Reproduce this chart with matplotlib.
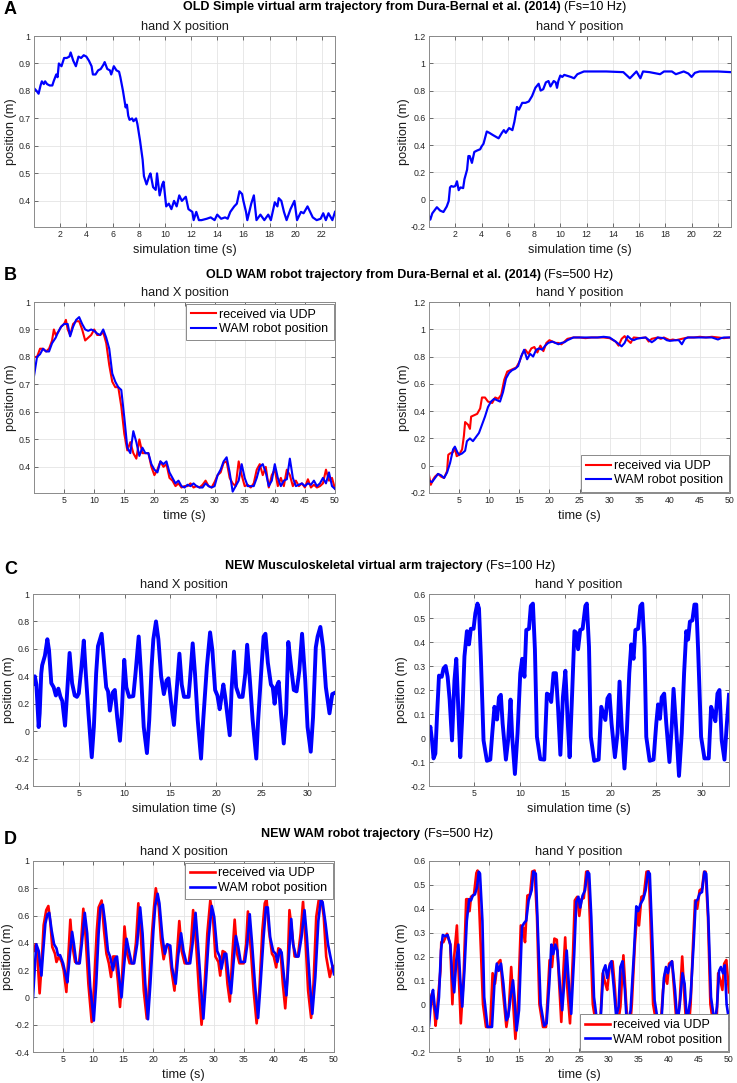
import matplotlib
matplotlib.use('Agg')
import matplotlib.pyplot as plt
from matplotlib.ticker import FuncFormatter

plt.rcParams['font.family'] = ['Liberation Sans', 'DejaVu Sans']

# ---------------- DATA ----------------
# Panel A: old simple virtual arm (Fs=10 Hz)
a_x_t = [0, 0.2, 0.35, 0.5, 0.6, 0.75, 0.85, 1.0, 1.2, 1.4, 1.5, 1.7, 1.8, 1.9, 2.1, 2.3, 2.5, 2.7, 2.8,
         3.0, 3.2, 3.4, 3.6, 3.8, 4.0, 4.2, 4.4, 4.5, 4.7, 4.9, 5.1, 5.3, 5.4, 5.6, 5.8, 5.9, 6.1, 6.3,
         6.5, 6.6, 6.8, 7.0, 7.1, 7.2, 7.3, 7.5, 7.6, 7.8, 7.9, 8.1, 8.3, 8.4, 8.6, 8.8, 8.9, 9.1, 9.3,
         9.4, 9.6, 9.8, 9.9, 10.1, 10.3, 10.5, 10.7, 10.9, 11.1, 11.3, 11.6, 11.8, 12.1, 12.2, 12.4,
         12.6, 12.8, 13.2, 13.5, 13.8, 14.0, 14.3, 14.6, 14.8, 15.0, 15.3, 15.5, 15.7, 15.9, 16.0,
         16.2, 16.3, 16.6, 16.8, 17.0, 17.3, 17.6, 17.9, 18.1, 18.4, 18.6, 18.7, 18.9, 19.1, 19.3,
         19.6, 19.9, 20.1, 20.4, 20.6, 20.9, 21.1, 21.3, 21.6, 21.9, 22.1, 22.3, 22.5, 22.8, 23.0]
a_x_v = [0.81, 0.80, 0.79, 0.82, 0.835, 0.825, 0.835, 0.825, 0.82, 0.82, 0.835, 0.86, 0.85, 0.90, 0.89,
         0.92, 0.92, 0.925, 0.94, 0.91, 0.89, 0.925, 0.92, 0.93, 0.925, 0.91, 0.89, 0.86, 0.86, 0.875,
         0.88, 0.895, 0.905, 0.88, 0.875, 0.86, 0.89, 0.875, 0.87, 0.85, 0.80, 0.74, 0.75, 0.71, 0.695,
         0.70, 0.69, 0.70, 0.68, 0.62, 0.55, 0.49, 0.46, 0.49, 0.50, 0.45, 0.44, 0.50, 0.42, 0.46, 0.47,
         0.38, 0.39, 0.37, 0.40, 0.38, 0.42, 0.40, 0.415, 0.37, 0.36, 0.33, 0.36, 0.33, 0.33, 0.335,
         0.34, 0.33, 0.35, 0.335, 0.34, 0.335, 0.36, 0.38, 0.39, 0.435, 0.425, 0.40, 0.36, 0.33, 0.39,
         0.42, 0.33, 0.35, 0.33, 0.35, 0.33, 0.395, 0.38, 0.41, 0.40, 0.36, 0.33, 0.37, 0.40, 0.33,
         0.36, 0.355, 0.38, 0.36, 0.34, 0.33, 0.335, 0.355, 0.33, 0.355, 0.33, 0.36]

a_y_t = [0, 0.1, 0.25, 0.6, 0.85, 1.1, 1.35, 1.5, 1.6, 1.7, 1.85, 2.0, 2.13, 2.26, 2.4, 2.6, 2.7, 2.9, 3.0,
         3.1, 3.27, 3.45, 3.65, 3.9, 4.0, 4.15, 4.4, 4.6, 4.85, 5.3, 5.55, 5.7, 5.85, 6.1, 6.35, 6.5,
         6.7, 6.85, 7.1, 7.35, 7.6, 7.85, 8.1, 8.35, 8.5, 8.7, 8.9, 9.1, 9.25, 9.5, 9.65, 9.75, 9.85,
         10.0, 10.15, 10.3, 10.8, 11.05, 11.3, 11.8, 12.5, 13.5, 14.8, 15.3, 15.8, 15.95, 16.1, 16.3,
         16.8, 17.6, 17.9, 18.5, 18.8, 19.1, 19.4, 19.75, 20.0, 20.25, 20.6, 21.0, 22.0, 23.0]
a_y_v = [-0.12, -0.146, -0.10, -0.055, -0.08, -0.09, -0.05, -0.01, 0.09, 0.10, 0.095, 0.10, 0.135, 0.07,
         0.09, 0.085, 0.15, 0.22, 0.32, 0.32, 0.27, 0.35, 0.36, 0.37, 0.39, 0.41, 0.50, 0.49, 0.475,
         0.45, 0.49, 0.51, 0.49, 0.525, 0.51, 0.57, 0.68, 0.66, 0.71, 0.71, 0.72, 0.76, 0.82, 0.85, 0.80,
         0.81, 0.86, 0.87, 0.83, 0.87, 0.86, 0.82, 0.87, 0.91, 0.90, 0.915, 0.90, 0.89, 0.92, 0.94, 0.94,
         0.94, 0.935, 0.89, 0.94, 0.915, 0.89, 0.94, 0.935, 0.92, 0.94, 0.94, 0.92, 0.93, 0.94, 0.925,
         0.90, 0.93, 0.94, 0.94, 0.94, 0.935]

# Panel B: old WAM robot (Fs=500 Hz)
b_x_t = [0, 0.5, 1, 1.5, 2, 2.5, 3, 3.3, 3.6, 4, 4.5, 5, 5.3, 5.6, 6, 6.5, 7, 7.5, 8, 8.5, 9, 9.5, 10,
         10.5, 11, 11.5, 12, 12.5, 13, 13.5, 14, 14.5, 15, 15.5, 16, 16.5, 17, 17.5, 18, 18.5, 19, 19.5,
         20, 20.5, 21, 21.5, 22, 22.5, 23, 23.5, 24, 24.5, 25, 25.5, 26, 26.5, 27, 27.5, 28, 28.5, 29,
         29.5, 30, 30.5, 31, 31.5, 32, 32.5, 33, 33.5, 34, 34.5, 35, 35.5, 36, 36.5, 37, 37.5, 38, 38.5,
         39, 39.5, 40, 40.5, 41, 41.5, 42, 42.5, 43, 43.5, 44, 44.5, 45, 45.5, 46, 46.5, 47, 47.5, 48,
         48.5, 49, 49.5, 50]
b_x_udp = [0.80, 0.80, 0.83, 0.83, 0.82, 0.83, 0.86, 0.90, 0.88, 0.89, 0.91, 0.92, 0.935, 0.90, 0.88,
           0.92, 0.93, 0.93, 0.90, 0.86, 0.87, 0.88, 0.90, 0.88, 0.88, 0.89, 0.85, 0.77, 0.71, 0.69, 0.69,
           0.62, 0.52, 0.46, 0.49, 0.45, 0.43, 0.50, 0.45, 0.45, 0.45, 0.40, 0.37, 0.39, 0.42, 0.40, 0.41,
           0.36, 0.35, 0.33, 0.34, 0.325, 0.33, 0.33, 0.34, 0.325, 0.33, 0.325, 0.335, 0.35, 0.33, 0.325,
           0.345, 0.37, 0.38, 0.415, 0.42, 0.36, 0.34, 0.33, 0.42, 0.37, 0.33, 0.335, 0.325, 0.34, 0.39,
           0.41, 0.37, 0.40, 0.325, 0.37, 0.39, 0.33, 0.36, 0.33, 0.39, 0.37, 0.33, 0.35, 0.33, 0.34,
           0.325, 0.355, 0.325, 0.335, 0.325, 0.33, 0.34, 0.39, 0.35, 0.36, 0.32]
b_x_wam = [0.73, 0.80, 0.81, 0.83, 0.82, 0.82, 0.85, 0.86, 0.87, 0.89, 0.91, 0.92, 0.92, 0.92, 0.875,
           0.91, 0.935, 0.945, 0.92, 0.90, 0.895, 0.90, 0.895, 0.885, 0.88, 0.90, 0.87, 0.83, 0.74, 0.71,
           0.69, 0.68, 0.58, 0.47, 0.45, 0.53, 0.49, 0.44, 0.47, 0.45, 0.45, 0.41, 0.39, 0.38, 0.42, 0.41,
           0.42, 0.38, 0.36, 0.34, 0.35, 0.33, 0.325, 0.335, 0.33, 0.34, 0.33, 0.325, 0.325, 0.34, 0.33,
           0.325, 0.33, 0.37, 0.39, 0.42, 0.435, 0.38, 0.31, 0.33, 0.35, 0.41, 0.36, 0.33, 0.33, 0.33,
           0.36, 0.40, 0.41, 0.38, 0.33, 0.35, 0.41, 0.36, 0.33, 0.35, 0.355, 0.43, 0.36, 0.33, 0.335,
           0.34, 0.33, 0.34, 0.335, 0.35, 0.33, 0.34, 0.36, 0.34, 0.38, 0.33, 0.32]

b_y_udp_t = [0, 0.3, 0.7, 1, 1.5, 2, 2.5, 3, 3.2, 3.5, 4, 4.3, 4.6, 5, 5.5, 5.8, 6, 6.5, 6.8, 7, 7.5, 8,
             8.5, 8.8, 9.3, 9.8, 10.5, 11, 11.5, 12, 12.5, 13, 13.5, 14, 14.5, 15, 15.5, 16, 16.5, 17,
             17.5, 18, 18.5, 19, 19.5, 20, 20.5, 21, 21.5, 22, 22.5, 23, 24, 25, 26, 27, 28, 29, 30, 31,
             31.5, 32, 32.5, 33, 33.5, 34, 35, 36, 36.5, 37, 38, 38.5, 39, 40, 40.5, 41, 42, 43, 44, 45,
             46, 47, 48, 49, 50]
b_y_udp = [-0.07, -0.14, -0.10, -0.08, -0.06, -0.08, -0.09, -0.04, 0.08, 0.09, 0.10, 0.13, 0.07, 0.08,
           0.12, 0.22, 0.32, 0.30, 0.27, 0.36, 0.37, 0.38, 0.42, 0.50, 0.50, 0.47, 0.46, 0.50, 0.49, 0.52,
           0.63, 0.69, 0.70, 0.71, 0.72, 0.76, 0.82, 0.85, 0.82, 0.86, 0.87, 0.83, 0.88, 0.84, 0.90, 0.92,
           0.91, 0.90, 0.90, 0.89, 0.91, 0.93, 0.94, 0.94, 0.935, 0.94, 0.94, 0.94, 0.935, 0.91, 0.88,
           0.93, 0.95, 0.92, 0.90, 0.94, 0.935, 0.94, 0.91, 0.93, 0.94, 0.93, 0.94, 0.92, 0.925, 0.92,
           0.93, 0.94, 0.94, 0.945, 0.94, 0.945, 0.94, 0.935, 0.94]
b_y_wam_t = [0, 0.5, 1, 1.5, 2, 2.5, 3, 3.5, 4, 4.3, 4.7, 5, 5.5, 6, 6.3, 6.8, 7.3, 7.8, 8.3, 8.8, 9.3,
             9.8, 10.3, 10.8, 11.3, 11.8, 12.3, 12.8, 13.3, 13.8, 14.3, 14.8, 15.3, 15.8, 16.3, 16.8,
             17.3, 17.8, 18.3, 18.8, 19.3, 19.8, 20.5, 21, 21.5, 22, 22.5, 23, 24, 25, 26, 27, 28, 29,
             30, 31, 32, 32.5, 33, 33.5, 34, 34.5, 35, 36, 37, 37.5, 38, 39, 39.5, 40, 41, 41.5, 42,
             42.5, 43, 44, 45, 46, 47, 48, 48.5, 49, 50]
b_y_wam = [-0.11, -0.12, -0.09, -0.06, -0.07, -0.09, -0.05, 0.02, 0.12, 0.14, 0.10, 0.08, 0.09, 0.11,
           0.18, 0.20, 0.18, 0.21, 0.24, 0.30, 0.36, 0.43, 0.47, 0.49, 0.48, 0.47, 0.54, 0.64, 0.68,
           0.70, 0.71, 0.73, 0.80, 0.85, 0.78, 0.82, 0.80, 0.85, 0.86, 0.85, 0.88, 0.90, 0.91, 0.90,
           0.89, 0.90, 0.905, 0.92, 0.94, 0.94, 0.94, 0.94, 0.94, 0.945, 0.94, 0.91, 0.875, 0.90, 0.95,
           0.93, 0.92, 0.93, 0.935, 0.94, 0.905, 0.92, 0.94, 0.935, 0.92, 0.915, 0.92, 0.92, 0.89, 0.93,
           0.94, 0.94, 0.94, 0.94, 0.94, 0.925, 0.935, 0.94, 0.94]

# Panel C: new musculoskeletal arm (Fs=100 Hz)
c_x_t = [0, 0.2, 0.37, 0.62, 0.73, 0.9, 1.0, 1.3, 1.57, 1.75, 2.0, 2.26, 2.5, 2.77, 3.0, 3.2, 3.5, 3.7,
         4.0, 4.27, 4.56, 4.8, 5.0, 5.3, 5.55, 5.77, 6.06, 6.42, 6.65, 6.9, 7.1, 7.5, 7.77, 8.0, 8.2,
         8.4, 8.7, 8.94, 9.2, 9.5, 9.7, 9.97, 10.2, 10.5, 10.96, 11.2, 11.55, 11.8, 12.1, 12.45, 12.7,
         12.96, 13.15, 13.44, 13.7, 14.0, 14.3, 14.6, 14.8, 15.1, 15.4, 15.7, 16.0, 16.25, 16.5, 17.0,
         17.15, 17.45, 17.7, 18.0, 18.36, 18.6, 19.0, 19.35, 19.6, 19.9, 20.15, 20.4, 20.6, 20.8,
         21.0, 21.5, 21.7, 21.96, 22.2, 22.55, 22.9, 23.2, 23.4, 23.7, 24.0, 24.4, 24.6, 25.0, 25.2,
         25.4, 25.66, 26.0, 26.2, 26.4, 26.6, 26.85, 27.1, 27.4, 27.66, 27.9, 28.2, 28.5, 28.8,
         29.1, 29.4, 29.75, 30.0, 30.35, 30.6, 30.9, 31.1, 31.4, 31.7, 32.0, 32.4, 32.7, 33.0]
c_x_v = [0.345, 0.40, 0.34, 0.03, 0.13, 0.42, 0.48, 0.55, 0.67, 0.59, 0.35, 0.32, 0.26, 0.31, 0.25,
         0.22, 0.04, 0.25, 0.57, 0.35, 0.26, 0.25, 0.275, 0.47, 0.66, 0.42, 0.13, -0.19, 0.03, 0.42,
         0.62, 0.71, 0.50, 0.32, 0.29, 0.15, 0.28, 0.30, 0.10, -0.07, 0.13, 0.52, 0.32, 0.25, 0.255,
         0.42, 0.69, 0.42, 0.03, -0.16, 0.08, 0.47, 0.67, 0.80, 0.67, 0.40, 0.27, 0.37, 0.385, 0.20,
         0.045, 0.30, 0.565, 0.34, 0.25, 0.25, 0.37, 0.64, 0.42, 0.08, -0.20, 0.08, 0.47, 0.72, 0.59,
         0.30, 0.26, 0.16, 0.25, 0.34, 0.25, -0.03, 0.30, 0.58, 0.32, 0.25, 0.25, 0.42, 0.63, 0.37,
         0.08, -0.20, 0.08, 0.50, 0.69, 0.71, 0.50, 0.34, 0.32, 0.20, 0.32, 0.36, 0.13, -0.09, 0.13,
         0.65, 0.47, 0.30, 0.29, 0.44, 0.71, 0.37, 0.03, -0.15, 0.10, 0.61, 0.69, 0.76, 0.61, 0.32,
         0.13, 0.27, 0.28]

c_y_t = [0, 0.15, 0.33, 0.5, 0.7, 0.88, 1.1, 1.4, 1.6, 1.83, 2.05, 2.27, 2.53, 2.8, 3.0, 3.2, 3.44,
         3.66, 3.9, 4.17, 4.4, 4.6, 4.9, 5.1, 5.33, 5.5, 5.7, 6.0, 6.37, 6.74, 6.96, 7.2, 7.48, 7.7,
         7.9, 8.1, 8.46, 8.7, 8.97, 9.15, 9.45, 9.74, 10.04, 10.25, 10.5, 10.7, 11.0, 11.2, 11.43,
         11.65, 11.87, 12.24, 12.68, 12.97, 13.2, 13.44, 13.7, 13.96, 14.19, 14.45, 14.73, 15.0,
         15.25, 15.47, 15.76, 16.0, 16.17, 16.4, 16.63, 16.9, 17.2, 17.36, 17.6, 17.8, 18.17, 18.66,
         18.95, 19.2, 19.4, 19.63, 19.86, 20.08, 20.45, 20.74, 20.96, 21.2, 21.5, 21.77, 22.03,
         22.25, 22.5, 22.7, 23.0, 23.25, 23.46, 23.7, 23.9, 24.27, 24.7, 25.0, 25.2, 25.4, 25.6,
         25.87, 26.1, 26.45, 26.7, 26.9, 27.2, 27.5, 27.8, 28.06, 28.3, 28.5, 28.7, 28.97, 29.2,
         29.4, 29.6, 29.93, 30.3, 30.77, 31.03, 31.3, 31.5, 31.73, 31.95, 32.2, 32.5, 32.74, 33.0]
c_y_v = [0.012, 0.047, -0.01, -0.085, -0.065, 0.09, 0.26, 0.255, 0.29, 0.30, 0.255, 0.16, -0.01, 0.24,
         0.33, 0.145, -0.08, 0.09, 0.34, 0.445, 0.39, 0.455, 0.455, 0.52, 0.56, 0.54, 0.34, -0.01,
         -0.095, -0.09, 0.02, 0.13, 0.077, 0.17, 0.18, 0.06, -0.09, -0.01, 0.16, 0.005, -0.15, 0.02,
         0.27, 0.33, 0.255, 0.45, 0.455, 0.55, 0.56, 0.37, 0.005, -0.088, -0.09, 0.185, 0.18, 0.15,
         0.27, 0.27, 0.13, -0.07, 0.17, 0.28, 0.075, -0.08, 0.20, 0.445, 0.44, 0.37, 0.45, 0.455,
         0.55, 0.56, 0.38, 0.005, -0.095, -0.09, 0.13, 0.10, 0.075, 0.165, 0.18, 0.06, -0.08, 0.02,
         0.235, 0.047, -0.127, 0.033, 0.27, 0.39, 0.33, 0.45, 0.455, 0.55, 0.56, 0.38, 0.005, -0.095,
         -0.09, 0.06, 0.14, 0.08, 0.17, 0.185, 0.06, -0.10, 0.047, 0.205, 0.033, -0.158, 0.02, 0.27,
         0.445, 0.41, 0.485, 0.49, 0.556, 0.556, 0.37, 0.005, -0.085, -0.085, 0.13, 0.10, 0.07, 0.185,
         0.20, -0.01, -0.09, 0.047, 0.18]

# Panel D: new WAM robot (Fs=500 Hz)
d_x_udp_t = [0, 0.2, 0.44, 0.7, 1.1, 1.44, 1.77, 2.2, 2.55, 2.9, 3.2, 3.65, 3.9, 4.3, 4.76, 5.1, 5.54,
             5.87, 6.2, 6.5, 7.0, 7.64, 7.97, 8.36, 8.75, 9.2, 9.75, 10.1, 10.6, 10.9, 11.4, 11.8, 12.2,
             12.6, 12.96, 13.3, 13.7, 14.1, 14.45, 14.8, 15.2, 15.6, 16.06, 16.7, 17.1, 17.5, 17.94,
             18.4, 18.9, 19.3, 19.77, 20.1, 20.4, 20.9, 21.26, 21.7, 22.15, 22.6, 23.0, 23.5, 23.9,
             24.3, 24.7, 25.2, 25.86, 26.24, 26.6, 27.1, 27.57, 28.0, 28.46, 28.96, 29.45, 29.9, 30.3,
             30.8, 31.1, 31.5, 31.9, 32.3, 32.7, 33.1, 33.5, 33.9, 34.3, 35.0, 35.4, 35.7, 36.2, 36.65,
             37.15, 37.6, 38.1, 38.5, 38.8, 39.2, 39.7, 40.0, 40.4, 40.75, 41.1, 41.5, 41.9, 42.25,
             42.6, 43.0, 43.46, 44.0, 44.46, 44.85, 45.3, 45.7, 46.2, 46.6, 47.05, 47.45, 47.9, 48.3,
             48.7, 49.3, 49.7, 50.0]
d_x_udp = [0.34, 0.34, 0.39, 0.33, 0.03, 0.25, 0.53, 0.64, 0.67, 0.54, 0.37, 0.32, 0.26, 0.30, 0.26,
           0.20, 0.04, 0.30, 0.57, 0.39, 0.26, 0.25, 0.39, 0.65, 0.44, 0.10, -0.18, 0.05, 0.49, 0.66,
           0.71, 0.49, 0.32, 0.25, 0.15, 0.30, 0.30, 0.12, -0.07, 0.15, 0.52, 0.33, 0.25, 0.25, 0.40,
           0.69, 0.44, 0.05, -0.155, 0.10, 0.47, 0.66, 0.80, 0.66, 0.42, 0.28, 0.38, 0.38, 0.20, 0.05,
           0.30, 0.56, 0.34, 0.25, 0.25, 0.39, 0.64, 0.39, 0.05, -0.20, 0.05, 0.47, 0.71, 0.59, 0.30,
           0.26, 0.16, 0.34, 0.33, 0.10, -0.03, 0.30, 0.57, 0.32, 0.25, 0.25, 0.39, 0.63, 0.34, 0.05,
           -0.19, 0.05, 0.49, 0.69, 0.72, 0.49, 0.32, 0.30, 0.22, 0.36, 0.35, 0.10, -0.08, 0.15, 0.64,
           0.49, 0.30, 0.30, 0.47, 0.70, 0.39, 0.05, -0.15, 0.10, 0.59, 0.71, 0.73, 0.59, 0.30, 0.15,
           0.22, 0.23]
d_x_wam_t = [0, 0.3, 0.55, 0.95, 1.4, 1.66, 2.05, 2.4, 2.7, 3.1, 3.5, 3.9, 4.15, 4.5, 5.0, 5.4, 5.7,
             6.1, 6.5, 6.8, 7.2, 7.75, 8.1, 8.6, 9.0, 9.5, 10.1, 10.5, 10.9, 11.2, 11.6, 12.0, 12.45,
             12.8, 13.3, 13.6, 13.95, 14.3, 14.7, 15.1, 15.55, 15.95, 16.4, 16.8, 17.3, 17.8, 18.2,
             18.65, 19.1, 19.5, 20.0, 20.3, 20.7, 21.0, 21.5, 21.9, 22.3, 22.8, 23.1, 23.7, 24.1, 24.6,
             25.0, 25.5, 26.1, 26.5, 27.0, 27.4, 27.9, 28.3, 28.7, 29.2, 29.7, 30.1, 30.6, 31.0, 31.3,
             31.8, 32.1, 32.5, 32.9, 33.3, 33.7, 34.1, 34.5, 35.2, 35.6, 36.0, 36.4, 36.9, 37.4, 37.8,
             38.3, 38.7, 39.0, 39.4, 39.9, 40.3, 40.6, 41.0, 41.3, 41.7, 42.1, 42.5, 42.9, 43.2, 43.7,
             44.1, 44.6, 45.1, 45.5, 46.0, 46.4, 46.9, 47.4, 47.8, 48.1, 48.6, 49.0, 49.4, 50.0]
d_x_wam = [0.0, 0.22, 0.39, 0.34, 0.16, 0.32, 0.54, 0.61, 0.62, 0.49, 0.39, 0.36, 0.31, 0.31, 0.25,
           0.17, 0.11, 0.30, 0.48, 0.39, 0.25, 0.25, 0.39, 0.62, 0.47, 0.08, -0.17, 0.10, 0.47, 0.66,
           0.68, 0.54, 0.34, 0.30, 0.20, 0.28, 0.30, 0.15, 0.0, 0.22, 0.43, 0.34, 0.25, 0.25, 0.39, 0.66,
           0.47, 0.10, -0.16, 0.10, 0.49, 0.67, 0.76, 0.69, 0.44, 0.32, 0.39, 0.38, 0.22, 0.10, 0.30,
           0.47, 0.34, 0.25, 0.25, 0.39, 0.62, 0.39, 0.08, -0.155, 0.10, 0.44, 0.67, 0.59, 0.34, 0.30,
           0.21, 0.32, 0.32, 0.15, 0.03, 0.25, 0.45, 0.37, 0.26, 0.26, 0.39, 0.61, 0.39, 0.08, -0.15,
           0.10, 0.44, 0.66, 0.66, 0.44, 0.34, 0.32, 0.26, 0.35, 0.33, 0.15, 0.015, 0.30, 0.575, 0.39,
           0.30, 0.30, 0.44, 0.64, 0.44, 0.10, -0.12, 0.15, 0.56, 0.71, 0.70, 0.54, 0.39, 0.30, 0.17]

d_y_udp_t = [0, 0.2, 0.5, 0.9, 1.1, 1.9, 2.05, 2.4, 3.0, 3.55, 3.9, 4.2, 4.65, 4.9, 5.3, 5.76, 6.2,
             6.5, 6.76, 7.0, 7.5, 7.9, 8.1, 8.4, 9.0, 9.5, 10.2, 10.6, 11.0, 11.4, 11.9, 12.3, 12.9,
             13.3, 13.7, 14.1, 14.4, 14.86, 15.3, 15.7, 16.0, 16.4, 16.85, 17.2, 17.6, 18.0, 18.4,
             19.0, 19.5, 20.1, 20.5, 20.9, 21.3, 21.7, 22.05, 22.4, 22.7, 23.05, 23.5, 24.0, 24.3,
             24.7, 25.05, 25.4, 25.8, 26.2, 26.5, 26.8, 27.3, 27.9, 28.5, 28.95, 29.4, 29.7, 30.15,
             30.6, 31.0, 31.4, 31.9, 32.4, 32.8, 33.3, 33.8, 34.3, 34.7, 35.0, 35.4, 35.8, 36.25,
             36.6, 36.9, 37.35, 38.0, 38.6, 39.0, 39.35, 39.7, 40.0, 40.5, 40.85, 41.35, 41.8, 42.2,
             42.6, 43.1, 43.6, 44.0, 44.35, 44.7, 45.1, 45.5, 45.85, 46.1, 46.5, 46.9, 47.45, 47.9,
             48.2, 48.55, 48.9, 49.2, 49.55, 50.0]
d_y_udp = [0.012, 0.017, 0.045, -0.025, -0.09, 0.14, 0.26, 0.26, 0.295, 0.25, 0.0, 0.20, 0.33, 0.156,
           -0.08, 0.11, 0.44, 0.44, 0.39, 0.45, 0.46, 0.55, 0.56, 0.39, 0.0, -0.095, -0.095, 0.13, 0.086,
           0.17, 0.185, 0.06, -0.095, -0.025, 0.156, -0.025, -0.145, 0.017, 0.33, 0.32, 0.26, 0.455,
           0.46, 0.556, 0.56, 0.365, 0.0, -0.095, -0.095, 0.185, 0.156, 0.275, 0.27, 0.086, -0.074,
           0.14, 0.28, 0.07, -0.08, 0.21, 0.435, 0.45, 0.37, 0.44, 0.445, 0.555, 0.557, 0.365, 0.0,
           -0.095, -0.095, 0.13, 0.086, 0.06, 0.17, 0.18, 0.06, -0.095, -0.01, 0.205, 0.03, -0.165,
           0.0, 0.25, 0.39, 0.33, 0.45, 0.455, 0.555, 0.557, 0.365, 0.0, -0.095, -0.095, 0.06, 0.13,
           0.086, 0.17, 0.18, 0.06, -0.11, 0.017, 0.20, 0.017, -0.165, 0.0, 0.25, 0.435, 0.40, 0.477,
           0.484, 0.555, 0.555, 0.365, 0.0, -0.095, -0.095, 0.13, 0.10, 0.06, 0.17, 0.185, 0.05]
d_y_wam_t = [0, 0.4, 0.67, 0.95, 1.33, 1.66, 2.0, 2.3, 2.7, 3.1, 3.55, 3.9, 4.2, 4.55, 4.9, 5.2, 5.54,
             5.9, 6.3, 6.7, 7.0, 7.3, 7.65, 8.0, 8.3, 8.5, 8.9, 9.2, 9.75, 10.5, 10.9, 11.3, 11.6, 12.0,
             12.4, 12.9, 13.2, 13.6, 14.0, 14.25, 14.6, 15.0, 15.5, 15.85, 16.2, 16.6, 17.1, 17.4,
             17.8, 18.1, 18.6, 19.2, 19.6, 20.05, 20.4, 20.7, 21.05, 21.4, 21.8, 22.2, 22.7, 22.95,
             23.3, 23.7, 24.2, 24.55, 24.9, 25.2, 25.6, 26.0, 26.4, 26.7, 27.05, 27.5, 28.05, 28.6,
             29.05, 29.4, 29.7, 30.05, 30.4, 30.8, 31.2, 31.6, 31.9, 32.25, 32.65, 33.0, 33.6, 34.15,
             34.55, 34.85, 35.25, 35.7, 36.1, 36.5, 36.8, 37.1, 37.6, 38.2, 38.75, 39.15, 39.5, 39.8,
             40.1, 40.5, 41.0, 41.4, 41.8, 42.25, 42.6, 43.0, 43.6, 44.1, 44.45, 44.8, 45.1, 45.5,
             45.9, 46.2, 46.55, 47.0, 47.6, 48.0, 48.35, 48.65, 49.0, 49.3, 49.6, 50.0]
d_y_wam = [-0.09, 0.03, 0.06, -0.01, -0.06, 0.03, 0.225, 0.29, 0.285, 0.29, 0.25, 0.11, 0.05, 0.185,
           0.25, 0.11, -0.01, 0.14, 0.35, 0.44, 0.435, 0.455, 0.46, 0.49, 0.555, 0.547, 0.35, 0.03,
           -0.095, -0.095, 0.086, 0.17, 0.14, 0.17, 0.086, -0.067, -0.053, 0.03, 0.10, 0.03, -0.11,
           -0.025, 0.325, 0.34, 0.35, 0.435, 0.477, 0.556, 0.547, 0.34, 0.0, -0.09, -0.08, 0.086, 0.25,
           0.21, 0.25, 0.225, 0.086, -0.025, 0.14, 0.225, 0.086, -0.04, 0.21, 0.43, 0.45, 0.405, 0.455,
           0.477, 0.555, 0.547, 0.365, 0.03, -0.08, -0.067, 0.14, 0.163, 0.11, 0.156, 0.18, 0.07,
           -0.053, -0.01, 0.156, 0.18, 0.06, -0.095, -0.025, 0.21, 0.41, 0.39, 0.42, 0.44, 0.477, 0.555,
           0.547, 0.35, 0.017, -0.08, -0.067, 0.11, 0.156, 0.13, 0.163, 0.18, 0.06, -0.08, 0.0, 0.13,
           0.086, -0.08, 0.03, 0.25, 0.43, 0.44, 0.463, 0.47, 0.555, 0.547, 0.365, 0.03, -0.08, -0.01,
           0.14, 0.156, 0.13, 0.163, 0.0, -0.067]

legend_labels = ['received via UDP', 'WAM robot position']

# ---------------- FIGURE ----------------
W, H = 737, 1083
fig = plt.figure(figsize=(W / 100, H / 100), dpi=100)
fig.patch.set_facecolor('white')


def add_axes(l, t, r, b):
    ax = fig.add_axes([l / W, 1 - b / H, (r - l) / W, (b - t) / H])
    ax._px = (l, r)
    return ax


def fmt(v, pos):
    return '%g' % round(v, 6)


def style(ax, xlim, xticks, ylim, yticks, title, xlabel, ylab_right):
    ax.set_xlim(xlim)
    ax.set_ylim(ylim)
    ax.set_xticks(xticks)
    ax.set_yticks(yticks)
    ax.xaxis.set_major_formatter(FuncFormatter(fmt))
    ax.yaxis.set_major_formatter(FuncFormatter(fmt))
    ax.tick_params(direction='in', top=True, right=True, labelsize=6.3, length=3,
                   width=0.6, color='#555555', labelcolor='#262626', pad=2.5)
    ax.grid(True, color='#e4e4e4', lw=0.6)
    ax.set_axisbelow(True)
    for sp in ax.spines.values():
        sp.set_color('#8a8a8a')
        sp.set_linewidth(0.7)
    ax.set_title(title, fontsize=9.2, pad=4, color='#1a1a1a')
    ax.set_xlabel(xlabel, fontsize=9.2, labelpad=3, color='#1a1a1a')
    ax.set_ylabel('position (m)', fontsize=9.2, color='#1a1a1a')
    l, r = ax._px
    # label anchored by its (rotated) bottom edge, i.e. its right side in pixels
    ax.yaxis.set_label_coords((ylab_right - l) / (r - l), 0.5)


def legend(ax, loc):
    lg = ax.legend(legend_labels, loc=loc, fontsize=9, fancybox=False, framealpha=1,
                   edgecolor='#8a8a8a', handlelength=2.0, handletextpad=0.25,
                   borderpad=0.4, labelspacing=0.2, borderaxespad=0.12)
    lg.get_frame().set_linewidth(0.7)


BLUE = '#0000ff'
RED = '#ff0000'

# Row A
ax = add_axes(34, 36, 335, 227)
ax.plot(a_x_t, a_x_v, color=BLUE, lw=1.6)
style(ax, (0, 23), range(2, 23, 2), (0.305, 1.0), [0.4, 0.5, 0.6, 0.7, 0.8, 0.9, 1.0],
      'hand X position', 'simulation time (s)', 17)
ax = add_axes(429, 36, 731, 227)
ax.plot(a_y_t, a_y_v, color=BLUE, lw=1.6)
style(ax, (0, 23), range(2, 23, 2), (-0.2, 1.2), [-0.2, 0, 0.2, 0.4, 0.6, 0.8, 1.0, 1.2],
      'hand Y position', 'simulation time (s)', 410)

# Row B
ax = add_axes(34, 302, 335, 493)
ax.plot(b_x_t, b_x_udp, color=RED, lw=1.5)
ax.plot(b_x_t, b_x_wam, color=BLUE, lw=1.5)
style(ax, (0, 50), range(5, 51, 5), (0.305, 1.0), [0.4, 0.5, 0.6, 0.7, 0.8, 0.9, 1.0],
      'hand X position', 'time (s)', 17)
legend(ax, 'upper right')
ax = add_axes(429, 302, 730, 493)
ax.plot(b_y_udp_t, b_y_udp, color=RED, lw=1.5)
ax.plot(b_y_wam_t, b_y_wam, color=BLUE, lw=1.5)
style(ax, (0, 50), range(5, 51, 5), (-0.2, 1.2), [-0.2, 0, 0.2, 0.4, 0.6, 0.8, 1.0, 1.2],
      'hand Y position', 'time (s)', 410)
legend(ax, 'lower right')

# Row C
ax = add_axes(33, 594, 335, 786)
ax.plot(c_x_t, c_x_v, color=BLUE, lw=2.8)
style(ax, (0, 33), range(5, 31, 5), (-0.4, 1.0), [-0.4, -0.2, 0, 0.2, 0.4, 0.6, 0.8, 1.0],
      'hand X position', 'simulation time (s)', 15)
ax = add_axes(429, 594, 729, 786)
ax.plot(c_y_t, c_y_v, color=BLUE, lw=2.8)
style(ax, (0, 33), range(5, 31, 5), (-0.2, 0.6), [-0.2, -0.1, 0, 0.1, 0.2, 0.3, 0.4, 0.5, 0.6],
      'hand Y position', 'simulation time (s)', 408)

# Row D
ax = add_axes(33, 861, 334, 1052)
ax.plot(d_x_udp_t, d_x_udp, color=RED, lw=1.9)
ax.plot(d_x_wam_t, d_x_wam, color=BLUE, lw=1.9)
style(ax, (0, 50), range(5, 51, 5), (-0.4, 1.0), [-0.4, -0.2, 0, 0.2, 0.4, 0.6, 0.8, 1.0],
      'hand X position', 'time (s)', 14)
legend(ax, 'upper right')
ax = add_axes(429, 861, 729, 1052)
ax.plot(d_y_udp_t, d_y_udp, color=RED, lw=1.9)
ax.plot(d_y_wam_t, d_y_wam, color=BLUE, lw=1.9)
style(ax, (0, 50), range(5, 51, 5), (-0.2, 0.6), [-0.2, -0.1, 0, 0.1, 0.2, 0.3, 0.4, 0.5, 0.6],
      'hand Y position', 'time (s)', 408)
legend(ax, 'lower right')

# Row titles and panel letters
rows = [
    ('A', 10, 'OLD Simple virtual arm trajectory from Dura-Bernal et al. (2014)', '(Fs=10 Hz)', 7, 564),
    ('B', 275, 'OLD WAM robot trajectory from Dura-Bernal et al. (2014)', '(Fs=500 Hz)', 275, 544),
    ('C', 570, 'NEW Musculoskeletal virtual arm trajectory', '(Fs=100 Hz)', 566, 486),
    ('D', 840, 'NEW WAM robot trajectory', '(Fs=500 Hz)', 834, 424),
]
for letter, ly, bold, normal, ty, xsplit in rows:
    fig.text(4 / W, 1 - ly / H, letter, fontsize=13, fontweight='bold', va='center', ha='left')
    fig.text(xsplit / W, 1 - ty / H, bold + ' ', fontsize=9.0, fontweight='bold', va='center', ha='right')
    fig.text(xsplit / W, 1 - ty / H, normal, fontsize=9.0, va='center', ha='left')

fig.savefig('out.png', dpi=100, facecolor='white')
